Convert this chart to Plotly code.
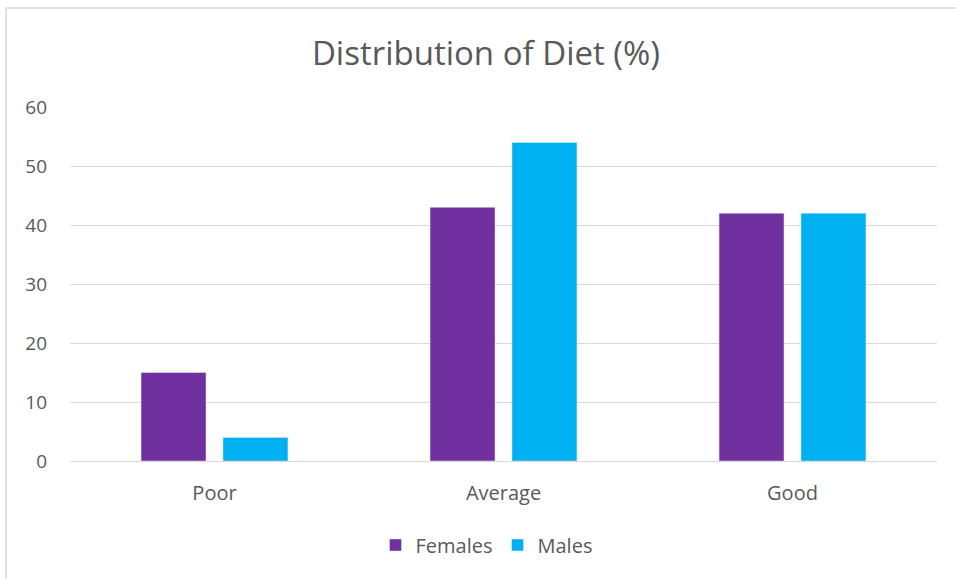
import plotly.graph_objects as go

categories = ["Poor", "Average", "Good"]
females = [15, 43, 42]
males = [4, 54, 42]
y_ticks = [0, 10, 20, 30, 40, 50, 60]

FONT = "Open Sans"
TXT = "#595959"

fig = go.Figure()
fig.add_trace(go.Bar(name="Females", x=categories, y=females, marker_color="#7030A0"))
fig.add_trace(go.Bar(name="Males", x=categories, y=males, marker_color="#00B0F0"))

W, H = 956, 579
L, R, T, B = 70, 19, 107, 118
pw, ph = W - L - R, H - T - B

fig.update_layout(
    width=W, height=H,
    margin=dict(l=L, r=R, t=T, b=B),
    paper_bgcolor="white", plot_bgcolor="white",
    barmode="group", bargap=0.433, bargroupgap=0.207,
    title=dict(text="Distribution of Diet (%)", x=486 / W, xanchor="center",
               y=1 - 53 / H, yanchor="middle",
               font=dict(family=FONT, size=33, color=TXT)),
    font=dict(family=FONT, color=TXT, size=19),
    showlegend=True,
    legend=dict(orientation="h", x=0.5 - 17 / pw, xanchor="center", y=-(545 - 461) / ph, yanchor="middle",
                font=dict(family=FONT, size=20, color=TXT), itemwidth=30, traceorder="normal"),
    xaxis=dict(showgrid=False, showline=False, ticks="", ticklabelstandoff=18,
               tickfont=dict(size=20, color=TXT)),
    yaxis=dict(range=[0, 60], tickvals=y_ticks, showgrid=True, gridcolor="#D9D9D9", gridwidth=1,
               zeroline=True, zerolinecolor="#D9D9D9", zerolinewidth=1, showline=False,
               ticks="", ticklabelstandoff=22, tickfont=dict(size=19, color=TXT)),
)

x0 = (6 - L) / pw
y1 = 1 + (T - 8) / ph
fig.add_shape(type="rect", xref="paper", yref="paper", x0=x0, x1=1.2, y0=-1, y1=y1,
              line=dict(color="#D9D9D9", width=1.5), fillcolor="rgba(0,0,0,0)", layer="below")

fig.write_html("out.html")
